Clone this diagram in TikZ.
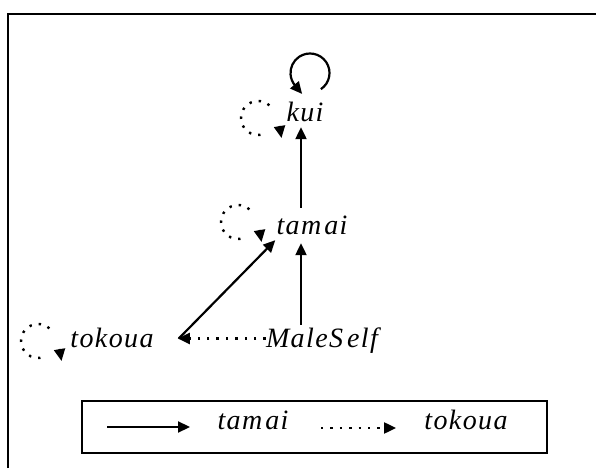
\documentclass[tikz,border=0pt]{standalone}
\usepackage{fontspec}
\setmainfont{Liberation Serif}[LetterSpace=5]
\usetikzlibrary{arrows.meta,calc}
\begin{document}
\begin{tikzpicture}[x=1pt,y=1pt,
  lbl/.style={font=\fontsize{28}{32}\selectfont\itshape, inner sep=4pt, text height=23pt, text depth=4pt, anchor=base},
  tipshape/.style={-{Triangle[length=12pt,width=11pt]}},
  solidarr/.style={line width=2.2pt, tipshape},
  dotline/.style={line width=2.4pt, dash pattern=on 2.4pt off 7pt},
  dotarr/.style={dotline, tipshape},
  tiponly/.style={line width=2.2pt, tipshape},
  frame/.style={line width=2.2pt}
]
\useasboundingbox (0,0) rectangle (596,468);
\draw[frame] (8,0) -- (8,454) -- (596,454);

% nodes
\node[lbl] (kui) at (305,346) {kui};
\node[lbl] (tamai) at (312,233) {tam\kern3pt ai};
\node[lbl] (tokoua) at (112,120) {tokoua};
\node[lbl] (self) at (322,120) {MaleS\kern4pt elf};
\coordinate (ax) at (301,0);

% connectors
\draw[solidarr] (tamai.north -| ax) -- ([yshift=3pt]kui.south -| ax);
\draw[solidarr] ([yshift=-4pt]self.north -| ax) -- (tamai.south -| ax);
\draw[solidarr] ([xshift=21pt]tokoua.east) -- ([shift={(3,3)}]tamai.south west);
\draw[dotarr] ([xshift=4pt]self.west) -- ([xshift=20pt]tokoua.east);

% solid self loop on kui
\coordinate (kc) at (310,395);
\draw[line width=2.2pt] ($(kc)+(-56:19.5)$) arc[start angle=-56, end angle=220, radius=19.5];
\draw[tiponly] ($(kc)+(220:19.5)$) -- ++(-50:11);

% dotted loops
\coordinate (lca) at (258,350);
\coordinate (lcb) at (238,246);
\coordinate (lcc) at (38,127);
\foreach \n in {a,b,c}{
  \draw[dotline] ($(lc\n)+(48:17)$) arc[start angle=48, end angle=292, radius=17];
  \draw[tiponly] ($(lc\n)+(21.5,-8)$) -- ($(lc\n)+(23.5,-20)$);
}

% legend
\node[draw, line width=1.1pt, minimum width=465pt, minimum height=52pt, inner sep=0pt] (legend) at (314.5,41) {};
\node[lbl] (legtamai) at (253,38) {tam\kern3pt ai};
\node[lbl] (legtokoua) at (466,38) {tokoua};
\coordinate (s1) at (107,41);
\coordinate (s2) at (190,41);
\coordinate (d1) at (321,40);
\coordinate (d2) at (396,40);
\draw[solidarr] (s1) -- (s2);
\draw[dotarr] (d1) -- (d2);
\end{tikzpicture}
\end{document}
